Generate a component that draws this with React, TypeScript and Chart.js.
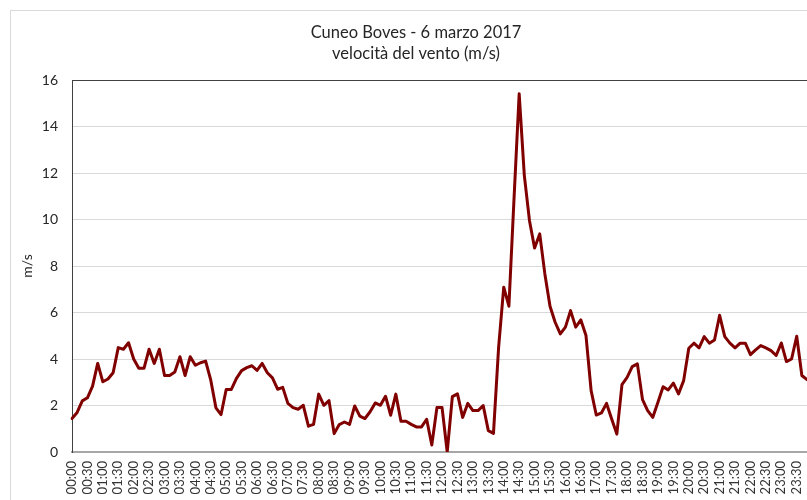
import React, { useEffect, useRef } from 'react';
import { Chart, registerables } from 'chart.js';

Chart.register(...registerables);

const TITLE_LINES = ['Cuneo Boves - 6 marzo 2017', 'velocità del vento (m/s)'];
const Y_TITLE = 'm/s';
const Y_MIN = 0;
const Y_MAX = 16;
const Y_STEP = 2;

// 10-minute categories 00:00 .. 23:50
const TIMES: string[] = [];
for (let h = 0; h < 24; h++) {
  for (let m = 0; m < 60; m += 10) {
    TIMES.push(String(h).padStart(2, '0') + ':' + String(m).padStart(2, '0'));
  }
}

// wind speed (m/s), one value per 10 minutes
const WIND = [
  1.44, 1.7, 2.2, 2.33, 2.83, 3.81, 3.02, 3.14, 3.41, 4.49, 4.42, 4.7,
  4.0, 3.6, 3.6, 4.42, 3.81, 4.42, 3.29, 3.29, 3.44, 4.1, 3.29, 4.1,
  3.73, 3.84, 3.91, 3.09, 1.9, 1.61, 2.69, 2.69, 3.17, 3.5, 3.63, 3.71,
  3.51, 3.81, 3.41, 3.19, 2.7, 2.78, 2.09, 1.91, 1.84, 2.01, 1.11, 1.19,
  2.49, 2.01, 2.21, 0.79, 1.18, 1.29, 1.19, 1.98, 1.54, 1.44, 1.73, 2.11,
  2.01, 2.4, 1.58, 2.49, 1.32, 1.32, 1.19, 1.08, 1.08, 1.41, 0.3, 1.91,
  1.91, 0.0, 2.38, 2.5, 1.49, 2.09, 1.78, 1.78, 2.0, 0.92, 0.8, 4.5,
  7.09, 6.27, 10.9, 15.41, 11.9, 9.96, 8.77, 9.38, 7.66, 6.27, 5.58, 5.08,
  5.37, 6.08, 5.37, 5.68, 5.01, 2.64, 1.59, 1.68, 2.09, 1.42, 0.77, 2.9,
  3.21, 3.67, 3.79, 2.25, 1.78, 1.49, 2.14, 2.81, 2.67, 2.96, 2.5, 3.07,
  4.46, 4.68, 4.48, 4.96, 4.68, 4.82, 5.88, 4.96, 4.68, 4.48, 4.68, 4.68,
  4.19, 4.39, 4.58, 4.48, 4.36, 4.15, 4.69, 3.89, 4.0, 4.98, 3.29, 3.11,
];

const FONT = 'Lato';

export default function App() {
  const ref = useRef<HTMLCanvasElement>(null);

  useEffect(() => {
    if (!ref.current) return;
    const titlePlugin = {
      id: 'twoLineTitle',
      afterDraw(chart: any) {
        const ctx = chart.ctx;
        ctx.save();
        ctx.font = `16.5px ${FONT}`;
        ctx.fillStyle = '#262626';
        ctx.textAlign = 'center';
        ctx.textBaseline = 'middle';
        ctx.fillText(TITLE_LINES[0], 405, 22);
        ctx.fillText(TITLE_LINES[1], 405, 43);
        ctx.restore();
      },
    };

    const chart = new Chart(ref.current, {
      type: 'line',
      data: {
        labels: TIMES,
        datasets: [
          {
            data: WIND,
            borderColor: '#800000',
            backgroundColor: '#800000',
            borderWidth: 3,
            pointRadius: 0,
            tension: 0,
            borderJoinStyle: 'round',
            borderCapStyle: 'round',
          },
        ],
      },
      options: {
        responsive: false,
        animation: false,
        layout: { padding: { left: 0, right: 34, top: 69, bottom: 0 } },
        plugins: {
          legend: { display: false },
          title: { display: false },
          tooltip: { enabled: false },
        },
        scales: {
          x: {
            type: 'category',
            offset: false,
            grid: { display: false, drawTicks: false },
            border: { display: true, color: '#a6a6a6', width: 2 },
            ticks: {
              autoSkip: false,
              maxRotation: 90,
              minRotation: 90,
              padding: 9,
              color: '#333333',
              font: { family: FONT, size: 13 },
              callback: (_v: any, i: number) => (i % 3 === 0 ? TIMES[i] : ''),
            },
            afterFit: (axis: any) => {
              axis.height = 69;
            },
          },
          y: {
            min: Y_MIN,
            max: Y_MAX,
            grid: {
              drawTicks: false,
              color: (c: any) => (c.tick && c.tick.value === Y_MAX ? '#404040' : '#d9d9d9'),
              lineWidth: 1,
            },
            border: { display: true, color: '#404040', width: 1 },
            ticks: {
              stepSize: Y_STEP,
              padding: 14,
              color: '#262626',
              font: { family: FONT, size: 14 },
            },
            title: {
              display: true,
              text: Y_TITLE,
              color: '#262626',
              font: { family: FONT, size: 14 },
              padding: { top: 8, bottom: 0 },
            },
            afterFit: (axis: any) => {
              axis.width = 61;
            },
          },
        },
      },
      plugins: [titlePlugin],
    });
    return () => chart.destroy();
  }, []);

  return (
    <div
      style={{
        position: 'fixed',
        left: 0,
        top: 0,
        width: 807,
        height: 500,
        overflow: 'hidden',
        background: '#ffffff',
      }}
    >
      <div
        style={{
          position: 'absolute',
          left: 10,
          top: 10,
          width: 840,
          height: 530,
          border: '1px solid #d9d9d9',
          boxSizing: 'border-box',
        }}
      >
        <canvas ref={ref} width={830} height={510} style={{ position: 'absolute', left: 0, top: 0 }} />
      </div>
    </div>
  );
}
